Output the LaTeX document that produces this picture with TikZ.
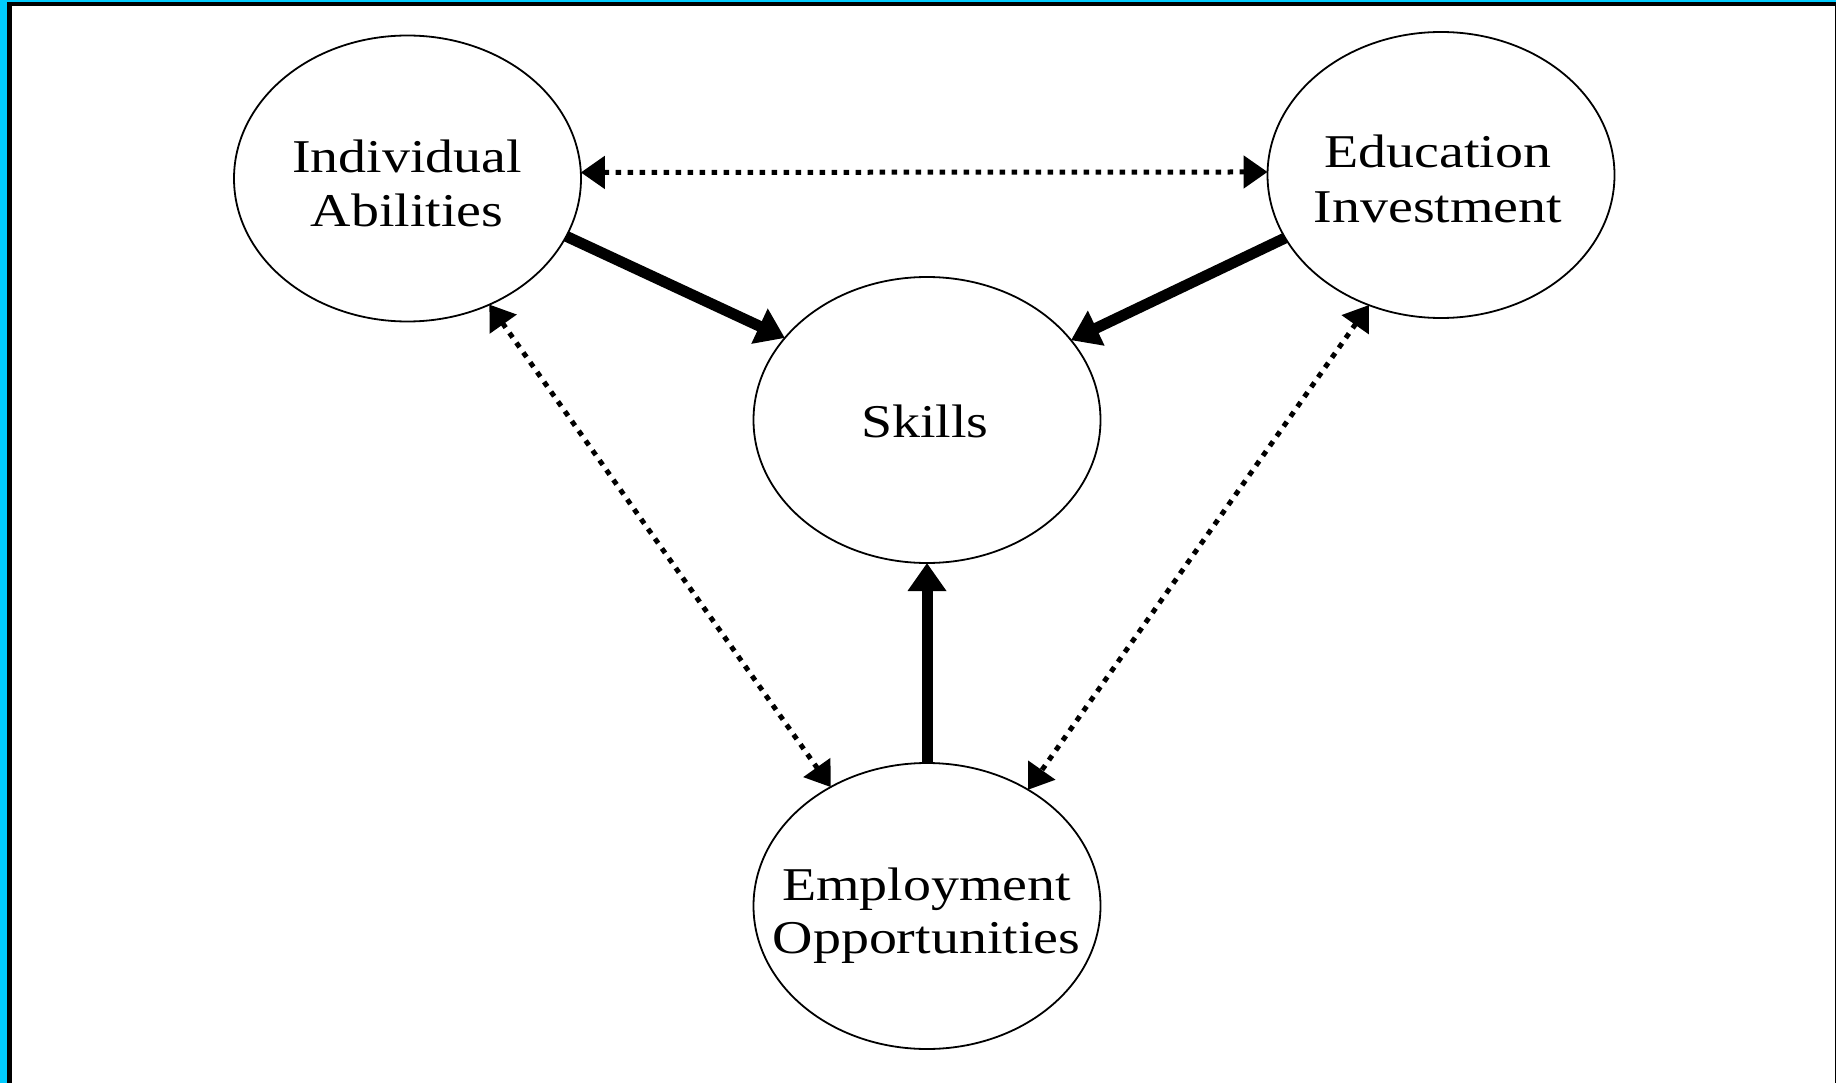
\documentclass[tikz,border=0pt]{standalone}
\usepackage{fontspec}
\setmainfont{Liberation Serif}
\newfontfamily\lblfont[FakeStretch=1.19]{Liberation Serif}
\usetikzlibrary{arrows.meta,shapes.geometric}
\definecolor{framecyan}{HTML}{00CCFF}
\begin{document}
\begin{tikzpicture}[x=1pt,y=-1pt,
  bub/.style={draw, ellipse, line width=1.8pt, minimum width=347pt, minimum height=286pt, inner sep=0pt, outer sep=0pt},
  lbl/.style={font=\lblfont\fontsize{47}{54}\selectfont, inner sep=0pt, anchor=base},
  solidarrow/.style={line width=11pt, -{Triangle[length=28pt,width=37pt]}},
  dotarrow/.style={line width=5pt, dash pattern=on 5.5pt off 6.5pt, {Triangle[length=24pt,width=32pt]}-{Triangle[length=24pt,width=32pt]}}
]
\useasboundingbox (0,0) rectangle (1836,1083);
% frame
\fill[framecyan] (0,0) rectangle (1836,1083);
\fill[black] (7,2) rectangle (1836,1083);
\fill[white] (12,6) rectangle (1834.7,1083);
% ellipses
\node[bub] (IA) at (407.5,178.5) {};
\node[bub] (EI) at (1441,175) {};
\node[bub] (SK) at (927,420) {};
\node[bub] (EO) at (927,906) {};
% labels
\node[lbl] (IAt1) at (407,173) {Individual};
\node[lbl] (IAt2) at (407,227) {Abilities};
\node[lbl] (EIt1) at (1438,168) {Education};
\node[lbl] (EIt2) at (1438,223) {Investment};
\node[lbl] (SKt) at (925,437) {Skills};
\node[lbl] (EOt1) at (926.5,900) {Employment};
\node[lbl] (EOt2) at (926.5,953) {Opportunities};
% connectors
\draw[dotarrow] (IA.2) -- (EI.179);
\draw[dotarrow] (IA.-57.9) -- (EO.129.8);
\draw[dotarrow] (EI.-119) -- (EO.49.9);
\draw[solidarrow] (IA.-20.7) -- (SK.150.5);
\draw[solidarrow] (EI.-158.3) -- (SK.29.8);
\draw[solidarrow] (EO.north) -- (SK.south);
\end{tikzpicture}
\end{document}
